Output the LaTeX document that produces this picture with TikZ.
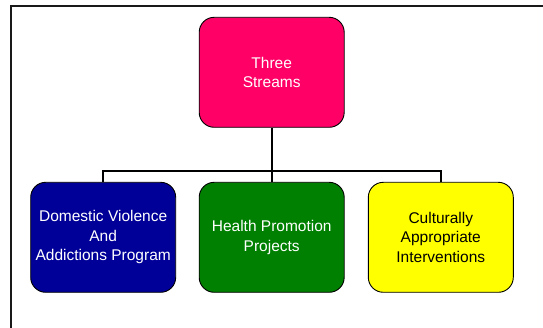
\documentclass[tikz,border=0pt]{standalone}
\usepackage{fontspec}
\setmainfont{Liberation Sans}
\definecolor{pinkbox}{HTML}{FF0066}
\definecolor{bluebox}{HTML}{000099}
\definecolor{greenbox}{HTML}{008000}
\definecolor{yellowbox}{HTML}{FFFF00}
\begin{document}
\begin{tikzpicture}[x=1pt,y=-1pt,
  box/.style={draw=black, line width=0.9pt, rounded corners=15pt, minimum width=145pt, minimum height=110pt, inner sep=0pt, align=center, font=\fontsize{15.5pt}{19.5pt}\selectfont},
  conn/.style={draw=black, line width=2pt},
  frame/.style={draw=black!90, line width=2pt}]
\useasboundingbox (0,0) rectangle (543,328);
\draw[frame] (11,328) -- (11,6) -- (543,6);
\node[box, fill=pinkbox, text=white] (top) at (271.7,72.3) {Three\\Streams};
\node[box, fill=bluebox, text=white] (dv) at (103.2,237.3) {Domestic Violence\\And\\Addictions Program};
\node[box, fill=greenbox, text=white] (hp) at (271.7,237.3) {Health Promotion\\Projects};
\node[box, fill=yellowbox, text=black] (ca) at (440.8,237.3) {Culturally\\Appropriate\\Interventions};
\coordinate (bus) at (271.7,171);
\draw[conn] (top.south) -- (hp.north);
\draw[conn] (dv.north) -- (dv.north |- bus) -- (ca.north |- bus) -- (ca.north);
\end{tikzpicture}
\end{document}
